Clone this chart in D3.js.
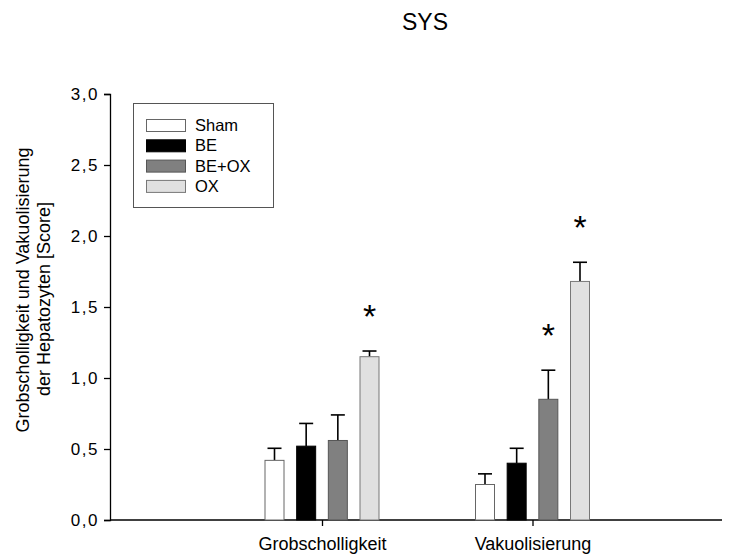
<!DOCTYPE html>
<html>
<head>
<meta charset="utf-8">
<script src="https://cdn.jsdelivr.net/npm/d3@7"></script>
<style>
  body { margin: 0; background: #fff; }
  svg { display: block; font-family: "Liberation Sans", Arial, sans-serif; }
</style>
</head>
<body>
<svg id="chart" width="736" height="558"></svg>
<script>
const categories = ["Grobscholligkeit", "Vakuolisierung"];
const series = ["Sham", "BE", "BE+OX", "OX"];
const colors = ["#ffffff", "#000000", "#808080", "#e0e0e0"];
const strokes = ["#666666", "#000000", "#555555", "#777777"];
const means = [
  [0.42, 0.52, 0.56, 1.15],
  [0.25, 0.40, 0.85, 1.68]
];
const errors = [
  [0.085, 0.16, 0.18, 0.04],
  [0.075, 0.105, 0.205, 0.135]
];
const significant = [
  [false, false, false, true],
  [false, false, true, true]
];
const yTicks = [0, 0.5, 1, 1.5, 2, 2.5, 3];
const title = "SYS";
const yLabel = ["Grobscholligkeit und Vakuolisierung", "der Hepatozyten [Score]"];

const svg = d3.select("#chart");
const mLeft = 110, mRight = 722, mTop = 94, mBottom = 520;
const FONT = "Liberation Sans, Arial, sans-serif";

const y = d3.scaleLinear().domain([0, 3]).range([mBottom, mTop]);
const xg = d3.scaleLinear().domain([0, 1]).range([322, 532.5]);
const xs = d3.scaleBand().domain(series).range([-57, 57]).paddingInner(0.4).paddingOuter(0);
const fmt = d => d3.format(".1f")(d).replace(".", ",");

// title
svg.append("text").attr("x", 425).attr("y", 30).attr("text-anchor", "middle")
  .attr("font-size", 23).attr("fill", "#000").text(title);

// y axis
const yAxis = d3.axisLeft(y).tickValues(yTicks).tickFormat(fmt).tickSize(6).tickPadding(5);
const gy = svg.append("g").attr("transform", `translate(${mLeft},0)`).call(yAxis);
gy.select(".domain").attr("stroke", "#000").attr("stroke-width", 1.3);
gy.selectAll(".tick line").attr("stroke", "#000").attr("stroke-width", 1.3);
gy.selectAll(".tick text").attr("font-size", 17).attr("fill", "#000")
  .attr("font-family", FONT).attr("letter-spacing", 1.5);

// x axis
svg.append("line").attr("x1", mLeft).attr("x2", mRight).attr("y1", mBottom).attr("y2", mBottom)
  .attr("stroke", "#000").attr("stroke-width", 1.5);
const xAxis = d3.axisBottom(xg).tickValues([0, 1]).tickFormat(i => categories[i]).tickSize(6).tickPadding(11);
const gx = svg.append("g").attr("transform", `translate(0,${mBottom})`).call(xAxis);
gx.select(".domain").remove();
gx.selectAll(".tick line").attr("stroke", "#000").attr("stroke-width", 1.3);
gx.selectAll(".tick text").attr("font-size", 18).attr("fill", "#000").attr("font-family", FONT);

// y label
const yl = svg.append("text").attr("transform", "rotate(-90)")
  .attr("text-anchor", "middle").attr("font-size", 18).attr("fill", "#000");
yl.append("tspan").attr("x", -290).attr("y", 29).text(yLabel[0]);
yl.append("tspan").attr("x", -299).attr("y", 50).text(yLabel[1]);

// bars
const data = [];
categories.forEach((c, ci) => series.forEach((s, si) => data.push({
  ci, si, s, v: means[ci][si], e: errors[ci][si], sig: significant[ci][si]
})));

const bw = xs.bandwidth();
const g = svg.append("g");
data.forEach(d => {
  const x0 = xg(d.ci) + xs(d.s);
  const cx = x0 + bw / 2;
  g.append("line").attr("x1", cx).attr("x2", cx).attr("y1", y(d.v)).attr("y2", y(d.v + d.e))
    .attr("stroke", "#000").attr("stroke-width", 1.6);
  g.append("line").attr("x1", cx - 7).attr("x2", cx + 7).attr("y1", y(d.v + d.e)).attr("y2", y(d.v + d.e))
    .attr("stroke", "#000").attr("stroke-width", 1.6);
  g.append("rect").attr("x", x0).attr("width", bw).attr("y", y(d.v)).attr("height", y(0) - y(d.v))
    .attr("fill", colors[d.si]).attr("stroke", strokes[d.si]).attr("stroke-width", 1);
  if (d.sig) {
    g.append("text").attr("x", cx).attr("y", y(d.v + d.e) - 39 + 0.46 * 34)
      .attr("text-anchor", "middle").attr("font-size", 34).attr("fill", "#000").text("*");
  }
});

// legend
const lg = svg.append("g");
lg.append("rect").attr("x", 133.5).attr("y", 103.5).attr("width", 140).attr("height", 104)
  .attr("fill", "#fff").attr("stroke", "#555").attr("stroke-width", 1);
series.forEach((s, i) => {
  const yy = 119.5 + i * 20.3;
  lg.append("rect").attr("x", 146.5).attr("y", yy).attr("width", 39).attr("height", 12)
    .attr("fill", colors[i]).attr("stroke", strokes[i]).attr("stroke-width", 1);
  lg.append("text").attr("x", 195).attr("y", yy + 11.5).attr("font-size", 16.5).attr("fill", "#000").text(s);
});
</script>
</body>
</html>
